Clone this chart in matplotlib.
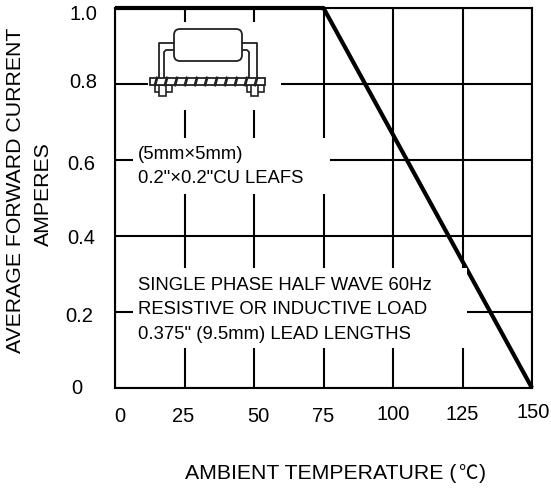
import matplotlib
matplotlib.use('Agg')
import matplotlib.pyplot as plt
from matplotlib.patches import Rectangle, FancyBboxPatch

plt.rcParams['font.family'] = ['Liberation Sans', 'Noto Sans CJK SC', 'DejaVu Sans']

# derating curve
temp = [0, 75, 150]
current = [1.0, 1.0, 0]
x_ticks = [0, 25, 50, 75, 100, 125, 150]
y_ticks = [0, 0.2, 0.4, 0.6, 0.8, 1.0]
y_labels = ['0', '0.2', '0.4', '0.6', '0.8', '1.0']
# the labels in the original are hand placed, so each one has its own nudge (pixels)
x_nudge = [(5, -29), (-1, -29), (4, -29), (0, -29), (0, -27), (0, -27), (1, -25)]
y_nudge = [(-33, 0), (-22, -4), (-20, -3), (-20, -4), (-18, 1), (-18, -6)]

W, H = 551, 488
fig = plt.figure(figsize=(W / 100, H / 100), dpi=100)
ax = fig.add_axes([115 / W, 1 - 388 / H, 417 / W, 380 / H])
ax.set_xlim(0, 150)
ax.set_ylim(0, 1)
ax.set_xticks(x_ticks)
ax.set_yticks(y_ticks)
ax.set_xticklabels([])
ax.set_yticklabels([])
ax.tick_params(length=0)
ax.grid(color='black', lw=1.5)
for s in ax.spines.values():
    s.set_linewidth(1.5)
ax.plot(temp, current, color='black', lw=3.0, clip_on=False, solid_capstyle='butt', zorder=5)

for v, (dx, dy) in zip(x_ticks, x_nudge):
    ax.annotate(str(v), xy=(v, 0), xytext=(dx, dy), textcoords='offset pixels',
                fontsize=14.5, ha='center', va='center', annotation_clip=False)
for v, lab, (dx, dy) in zip(y_ticks, y_labels, y_nudge):
    ax.annotate(lab, xy=(0, v), xytext=(dx, dy), textcoords='offset pixels',
                fontsize=14.5, ha='right', va='center', annotation_clip=False)

fig.text(16 / W, 1 - 190 / H, 'AVERAGE FORWARD CURRENT', rotation=90, fontsize=15.3, va='center', ha='center')
fig.text(43 / W, 1 - 194 / H, 'AMPERES', rotation=90, fontsize=15.3, va='center', ha='center')
fig.text(185 / W, 1 - 479 / H, 'AMBIENT TEMPERATURE (', fontsize=15.3, va='baseline', ha='left')
fig.text(458 / W, 1 - 479 / H, '℃', fontsize=14, va='baseline', ha='left', family='Noto Sans CJK SC')
fig.text(479 / W, 1 - 479 / H, ')', fontsize=15.3, va='baseline', ha='left')

# overlay in pixel coordinates for the white label boxes and the diode sketch
ov = fig.add_axes([0, 0, 1, 1])
ov.set_xlim(0, W)
ov.set_ylim(H, 0)
ov.axis('off')
ov.patch.set_alpha(0)

for x0, y0, x1, y1 in [(148, 22, 281, 110), (133, 138, 330, 194), (133, 268, 467, 348)]:
    ov.add_patch(Rectangle((x0, y0), x1 - x0, y1 - y0, fc='white', ec='none'))

ov.text(138, 159, '(5mm×5mm)', fontsize=13.35, va='baseline')
ov.text(138, 183, '0.2"×0.2"CU LEAFS', fontsize=13.35, va='baseline')
ov.text(138, 290, 'SINGLE PHASE HALF WAVE 60Hz', fontsize=13.35, va='baseline')
ov.text(138, 314, 'RESISTIVE OR INDUCTIVE LOAD', fontsize=13.35, va='baseline')
ov.text(138, 339, '0.375" (9.5mm) LEAD LENGTHS', fontsize=13.35, va='baseline')

# diode body
ov.add_patch(FancyBboxPatch((174, 29), 68, 32, boxstyle='round,pad=0,rounding_size=6',
                            fc='white', ec='#222222', lw=1.3, zorder=3))
# leads
for xs, ys in [([174, 159, 159], [43, 43, 80]), ([174, 166, 164, 164], [50, 50, 52, 80]),
               ([242, 257, 257], [43, 43, 80]), ([242, 247, 249, 249], [50, 50, 52, 80])]:
    ov.plot(xs, ys, color='#222222', lw=1.3)
# solder feet
for x0 in [155, 247]:
    ov.add_patch(Rectangle((x0, 85), 17, 7, fc='white', ec='#222222', lw=1.2))
    ov.add_patch(Rectangle((x0 + 4, 85), 7, 11, fc='white', ec='#222222', lw=1.2))
# board
ov.add_patch(Rectangle((150, 78), 115, 7, fc='white', ec='#222222', lw=1.3, zorder=3))
for i in range(11):
    x = 155 + i * 10
    ov.plot([x + 2, x], [78, 85], color='#222222', lw=2, zorder=4)

ov.set_xlim(0, W)
ov.set_ylim(H, 0)
fig.savefig('out.png', dpi=100)
